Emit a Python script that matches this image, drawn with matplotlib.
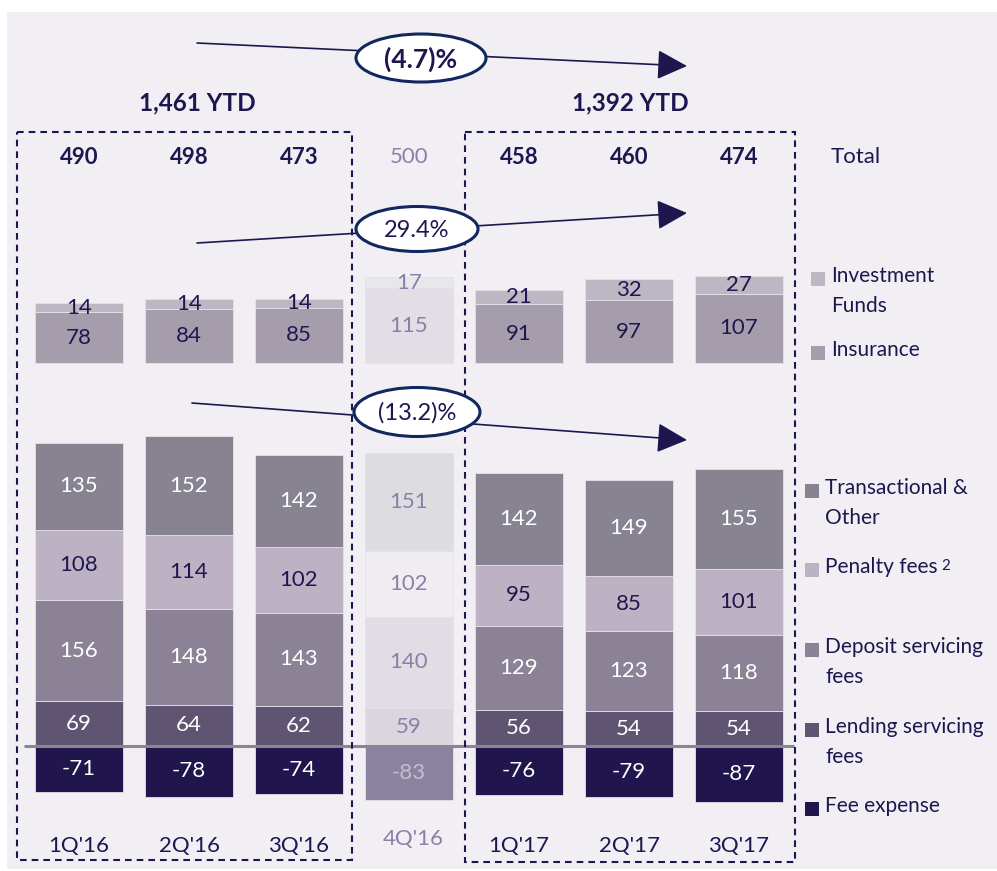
import numpy as np
import matplotlib.pyplot as plt
from matplotlib.patches import Ellipse, Rectangle

plt.rcParams['font.family'] = ['Lato', 'DejaVu Sans']

quarters = ["1Q'16", "2Q'16", "3Q'16", "4Q'16", "1Q'17", "2Q'17", "3Q'17"]
totals = [490, 498, 473, 500, 458, 460, 474]
investment_funds = [14, 14, 14, 17, 21, 32, 27]
insurance = [78, 84, 85, 115, 91, 97, 107]
transactional = [135, 152, 142, 151, 142, 149, 155]
penalty_fees = [108, 114, 102, 102, 95, 85, 101]
deposit_fees = [156, 148, 143, 140, 129, 123, 118]
lending_fees = [69, 64, 62, 59, 56, 54, 54]
fee_expense = [-71, -78, -74, -83, -76, -79, -87]
ytd_labels = ['1,461 YTD', '1,392 YTD']
growth_labels = ['(4.7)%', '29.4%', '(13.2)%']
faded = 3  # 4Q'16 is shown greyed out

NAVY = '#1f1650'
FADED_TXT = '#8a80a8'
BG = '#f1eff3'

W, H = 997, 871
PX = 0.648            # pixels per unit of value
X0, STEP = 79, 110    # first bar centre and spacing, pixels

fig = plt.figure(figsize=(W / 100, H / 100), dpi=100)
fig.patch.set_facecolor('white')

# backdrop panel
bg = fig.add_axes([0, 0, 1, 1], zorder=0)
bg.set_xlim(0, W); bg.set_ylim(H, 0); bg.axis('off')
bg.add_patch(Rectangle((7, 12), W - 7, 857, color=BG, lw=0))

xlim = (-X0 / STEP, (W - X0) / STEP)
x = np.arange(len(quarters))


def bar_axes(base_px):
    a = fig.add_axes([0, 0, 1, 1], zorder=1)
    a.patch.set_alpha(0)
    a.set_xlim(*xlim)
    a.set_ylim(-(H - base_px) / PX, base_px / PX)
    a.axis('off')
    return a


def stack(a, series, bottom=None):
    """series: list of (values, colour, faded colour, text colours)"""
    bottom = np.zeros(len(x)) if bottom is None else bottom
    for vals, col, fcol, tcol in series:
        vals = np.asarray(vals, dtype=float)
        cols = [fcol if i == faded else col for i in x]
        a.bar(x, vals, 0.8, bottom=bottom, color=cols, edgecolor='#e4e1e8', lw=0.6)
        for i, v in enumerate(vals):
            c = tcol[1] if i == faded else tcol[0]
            a.text(i, bottom[i] + v / 2, f'{int(v)}', ha='center', va='center',
                   fontsize=16, color=c)
        bottom = bottom + vals
    return bottom


# upper chart: insurance and investment funds
up = bar_axes(363)
stack(up, [
    (insurance, '#a59dab', '#e1dee5', (NAVY, FADED_TXT)),
    (investment_funds, '#bcb7c2', '#e8e7ea', (NAVY, FADED_TXT)),
])

# lower chart: fee lines above zero, fee expense below
lo = bar_axes(746)
stack(lo, [
    (lending_fees, '#5f5472', '#dbd5e0', ('white', FADED_TXT)),
    (deposit_fees, '#8c8296', '#e0dde4', ('white', FADED_TXT)),
    (penalty_fees, '#bdb2c3', '#f0edf2', (NAVY, FADED_TXT)),
    (transactional, '#878390', '#dddce0', ('white', FADED_TXT)),
])
stack(lo, [(fee_expense, '#21154d', '#8a83a0', ('white', '#c3bed0'))])
lo.hlines(0, -0.5, 6.5, color='#8a8592', lw=2.2, zorder=5)

# annotations on top
ov = fig.add_axes([0, 0, 1, 1], zorder=2)
ov.patch.set_alpha(0)
ov.set_xlim(0, W); ov.set_ylim(H, 0); ov.axis('off')

dash = (0, (3.2, 2.4))
ov.add_patch(Rectangle((17, 132), 335, 728, fill=False, ec=NAVY, lw=1.5, ls=dash))
ov.add_patch(Rectangle((465, 132), 330, 730, fill=False, ec=NAVY, lw=1.5, ls=dash))

for i, t in enumerate(totals):
    px = X0 + STEP * i
    if i == faded:
        ov.text(px, 157, f'{t}', ha='center', va='center', fontsize=16, color=FADED_TXT)
    else:
        ov.text(px, 157, f'{t}', ha='center', va='center', fontsize=16,
                color=NAVY, fontweight='bold')
ov.text(831, 157, 'Total', ha='left', va='center', fontsize=16, color=NAVY)

for i, q in enumerate(quarters):
    px = X0 + STEP * i
    if i == faded:
        ov.text(px + 4, 839, q, ha='center', va='center', fontsize=16, color=FADED_TXT)
    else:
        ov.text(px, 846, q, ha='center', va='center', fontsize=16, color=NAVY)

ov.text(197, 103, ytd_labels[0], ha='center', va='center', fontsize=17.5,
        fontweight='bold', color=NAVY)
ov.text(630, 103, ytd_labels[1], ha='center', va='center', fontsize=17.5,
        fontweight='bold', color=NAVY)

# growth arrows with ellipse badges
arrows = [((197, 43), (687, 66), (421, 58), 130, 48, 'bold'),
          ((197, 243), (687, 213), (417, 229), 122, 45, 'normal'),
          ((192, 403), (687, 440), (417, 412), 126, 49, 'normal')]
for (start, end, c, ew, eh, wt), lab in zip(arrows, growth_labels):
    ov.annotate('', xy=end, xytext=start,
                arrowprops=dict(arrowstyle='-|>,head_length=0.85,head_width=0.42',
                                mutation_scale=22, color=NAVY, lw=1.2,
                                shrinkA=0, shrinkB=0))
    ov.add_patch(Ellipse(c, ew, eh, fc='white', ec='#10285e', lw=2.2, zorder=4))
    ov.text(c[0], c[1] + 1, lab, ha='center', va='center', zorder=5,
            fontsize=19 if wt == 'bold' else 17, fontweight=wt, color=NAVY)

# legend
legend = [(811, 279, '#bcb7c2', ['Investment', 'Funds']),
          (811, 353, '#a59dab', ['Insurance']),
          (805, 491, '#878390', ['Transactional &', 'Other']),
          (805, 570, '#bdb2c3', ['Penalty fees']),
          (805, 650, '#8c8296', ['Deposit servicing', 'fees']),
          (805, 730, '#5f5472', ['Lending servicing', 'fees']),
          (805, 809, '#21154d', ['Fee expense'])]
penalty_txt = None
for lx, ly, col, lines in legend:
    ov.add_patch(Rectangle((lx, ly - 7), 14, 14, color=col, lw=0))
    for k, line in enumerate(lines):
        t = ov.text(lx + 20, ly - 3 + 30 * k, line, ha='left', va='center',
                    fontsize=15, color=NAVY)
        if line == 'Penalty fees':
            penalty_txt = t

# footnote marker right after "Penalty fees"
fig.canvas.draw()
bb = penalty_txt.get_window_extent()
ov.text(bb.x1 + 4, 566, '2', ha='left', va='center', fontsize=11, color=NAVY)

fig.savefig('out.png', dpi=100, facecolor='white')
